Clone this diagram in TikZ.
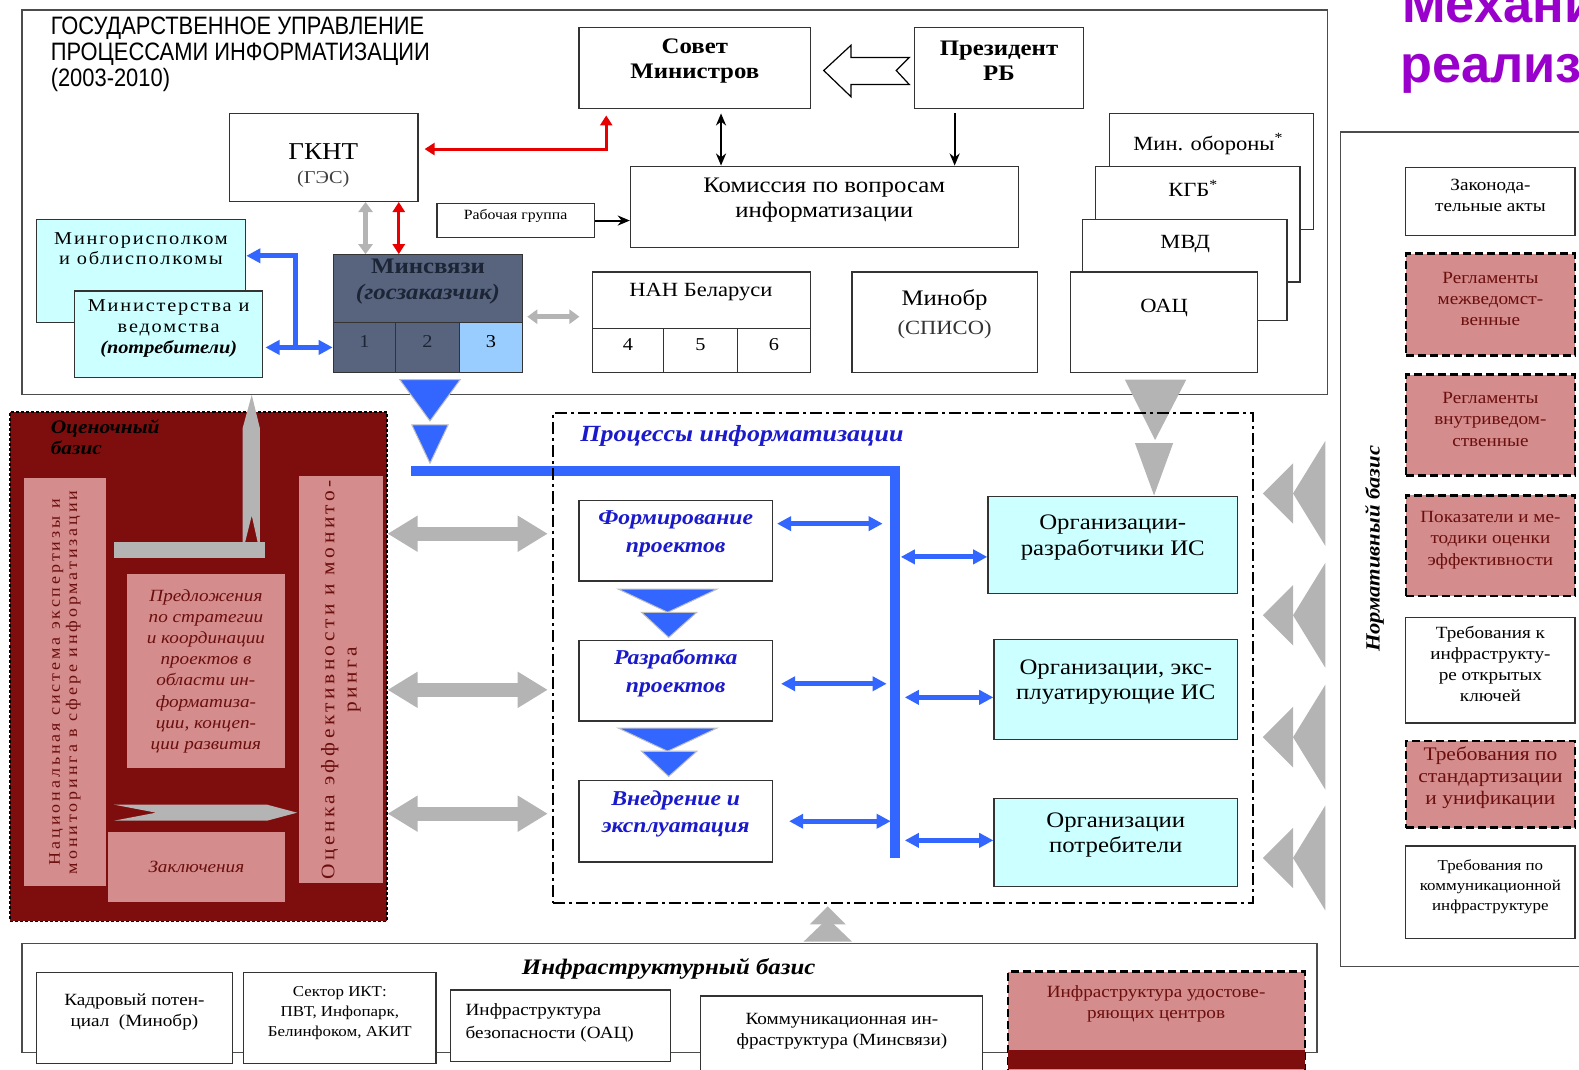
\documentclass[tikz,border=0pt]{standalone}
\usepackage{fontspec}
\setmainfont{Liberation Serif}[FakeStretch=1.12]
\newfontfamily\headfont{Liberation Sans}[FakeStretch=0.87]
\newfontfamily\bigfont{Liberation Sans}
\newfontfamily\spacedfont{Liberation Serif}[FakeStretch=1.12,LetterSpace=10]
\newfontfamily\widefont{Liberation Serif}[FakeStretch=1.12,LetterSpace=18]
\usetikzlibrary{arrows.meta,fit,positioning}

\definecolor{cyanbox}{HTML}{CCFFFF}
\definecolor{ocenred}{HTML}{7E0E0E}
\definecolor{pinkbox}{HTML}{D48C8C}
\definecolor{pinktext}{HTML}{6A0E0E}
\definecolor{slate}{HTML}{58647E}
\definecolor{slatetext}{HTML}{1C2536}
\definecolor{cellblue}{HTML}{99CCFF}
\definecolor{procblue}{HTML}{1A1ACC}
\definecolor{busblue}{HTML}{3366FF}
\definecolor{arrgray}{HTML}{B4B4B4}
\definecolor{redline}{HTML}{E80000}
\definecolor{titleviolet}{HTML}{9900CC}

\begin{document}
\begin{tikzpicture}[x=0.5pt,y=-0.5pt,
  frame/.style={draw=black!70, line width=0.7pt, inner sep=0pt},
  box/.style={draw=black!80, line width=0.6pt, fill=white, inner sep=0pt, align=center,
    font=\fontsize{11}{12.5}\selectfont},
  cbox/.style={box, fill=cyanbox},
  nbox/.style={box, font=\fontsize{8.5}{10.5}\selectfont},
  pbox/.style={draw=black, line width=1.3pt, dash pattern=on 4pt off 2pt, fill=pinkbox,
    inner sep=0pt, align=center, text=pinktext, font=\fontsize{8.5}{10.5}\selectfont},
  procbox/.style={box, text=procblue, font=\bfseries\itshape\fontsize{10.5}{13.5}\selectfont},
  panel/.style={fill=pinkbox, inner sep=0pt},
  paneltext/.style={inner sep=0pt, align=center, text=pinktext},
  cell/.style={draw=black!80, line width=0.6pt, inner sep=0pt, font=\fontsize{9}{10}\selectfont},
  txt/.style={inner sep=0pt, align=center},
  blk/.style={line width=1pt, -{Stealth[length=6pt,width=5pt]}},
  redarr/.style={line width=1.5pt, draw=redline, {Triangle[length=5pt,width=6pt]}-{Triangle[length=5pt,width=6pt]}},
  grayarr/.style={line width=7pt, draw=arrgray, {Triangle[length=15pt,width=17pt]}-{Triangle[length=15pt,width=17pt]}},
  smallgray/.style={line width=2.5pt, draw=arrgray, {Triangle[length=5pt,width=7pt]}-{Triangle[length=5pt,width=7pt]}},
  bluearr/.style={line width=2.5pt, draw=busblue, {Triangle[length=7pt,width=7pt]}-{Triangle[length=7pt,width=7pt]}},
  bus/.style={line width=5pt, draw=busblue}
]
\useasboundingbox (0,0) rectangle (1568,1062);
\clip (0,0) rectangle (1568,1062);

% Frames
\node[frame, fit={(22,10) (1318,392)}] (upr) {};
\node[frame, fit={(1331,131) (1600,960)}] (norm) {};
\node[frame, fit={(22,937) (1308,1045)}] (infra) {};

% Title
\node[anchor=north west, align=left, inner sep=0pt, font=\headfont\fontsize{12.5}{13}\selectfont]
  (title) at (50,16) {ГОСУДАРСТВЕННОЕ УПРАВЛЕНИЕ\\ПРОЦЕССАМИ ИНФОРМАТИЗАЦИИ\\(2003-2010)};
\node[anchor=base west, inner sep=0pt, text=titleviolet, font=\bigfont\bfseries\fontsize{26}{28}\selectfont]
  (mech1) at (1392,22) {Механи};
\node[anchor=base west, inner sep=0pt, text=titleviolet, font=\bigfont\bfseries\fontsize{26}{28}\selectfont]
  (mech2) at (1390,82) {реализ};

% Government bodies
\node[box, font=\bfseries\fontsize{11}{12.5}\selectfont, fit={(575,27) (805,108)}] (sovet) {Совет\\Министров};
\node[box, font=\bfseries\fontsize{11}{12.5}\selectfont, fit={(908,27) (1076,108)}] (prez) {Президент\\РБ};
\draw[line width=0.6pt, fill=white] (818,70) -- (845,45) -- (845,57) -- (903,57) -- (890,70)
  -- (903,84) -- (845,84) -- (845,96) -- cycle;

\node[box, fit={(228,113) (415,200)}] (gknt) {};
\node[txt, font=\fontsize{12}{14}\selectfont] (gknt-t) at (321,151) {ГКНТ};
\node[txt, text=black!75, font=\fontsize{9}{11}\selectfont] (ges-t) at (321,178) {(ГЭС)};
\node[box, fit={(626,165) (1011,246)}] (komis) {Комиссия по вопросам\\информатизации};
\node[box, font=\fontsize{7}{8}\selectfont, fit={(434,202) (590,236)}] (rabgr) {Рабочая группа};

% Stacked ministries
\node[box, fit={(1102,113) (1304,228)}] (minob) {};
\node[txt, font=\fontsize{10}{12}\selectfont] (minob-t) at (1200,143) {Мин. обороны\textsuperscript{*}};
\node[box, fit={(1088,165) (1291,280)}] (kgb) {};
\node[txt] (kgb-t) at (1185,187) {КГБ\textsuperscript{*}};
\node[box, fit={(1075,218) (1278,318)}] (mvd) {};
\node[txt] (mvd-t) at (1177,242) {МВД};
\node[box, fit={(1063,270) (1249,370)}] (oac) {};
\node[txt] (oac-t) at (1156,306) {ОАЦ};

% Executive committees and ministries
\node[cbox, fit={(36,218) (244,320)}] (mingor) {};
\node[txt, font=\spacedfont\fontsize{9}{10}\selectfont] (mingor-t) at (140,247) {Мингорисполком\\и облисполкомы};
\node[cbox, font=\spacedfont\fontsize{9}{10.5}\selectfont, fit={(74,289) (261,375)}] (minist)
  {Министерства и\\ведомства\\{\normalfont\fontsize{9}{10.5}\selectfont\bfseries\itshape(потребители)}};

% Minsvyazi with cells
\node[box, fill=slate, text=slatetext, font=\bfseries\fontsize{11}{13}\selectfont, fit={(331,253) (519,320)}]
  (minsv) {Минсвязи\\\textit{(госзаказчик)}};
\node[cell, fill=slate, text=slatetext, fit={(331,320) (393,370)}] (c1) {1};
\node[cell, fill=slate, text=slatetext, fit={(393,320) (456,370)}] (c2) {2};
\node[cell, fill=cellblue, fit={(456,320) (519,370)}] (c3) {3};

% NAN and Minobr
\node[box, fit={(588,270) (805,326)}] (nan) {};
\node[txt] (nan-t) at (696,290) {НАН Беларуси};
\node[cell, fill=white, fit={(588,326) (659,370)}] (n4) {4};
\node[cell, fill=white, fit={(659,326) (732,370)}] (n5) {5};
\node[cell, fill=white, fit={(732,326) (805,370)}] (n6) {6};
\node[box, fit={(846,270) (1030,370)}] (minobr) {Минобр\\[2pt]{\color{black!80}\fontsize{10}{12}\selectfont(СПИСО)}};

% Connectors of the upper part
\coordinate (rk) at (602,148);
\draw[redarr, shorten <=3pt, shorten >=3pt] (gknt.east |- rk) -- (rk) -- (rk |- sovet.south);
\draw[blk, {Stealth[length=6pt,width=5pt]}-{Stealth[length=6pt,width=5pt]}, shorten <=2pt]
  ([xshift=13pt]sovet.south) -- ([xshift=13pt]sovet.south |- komis.north);
\draw[blk, shorten <=2pt] ([xshift=-22pt]prez.south) -- ([xshift=-22pt]prez.south |- komis.north);
\draw[blk] (rabgr.east) -- (rabgr.east -| komis.west);
\draw[smallgray] ([xshift=20.75pt]gknt.south) -- ([xshift=20.75pt]gknt.south |- minsv.north);
\draw[redarr] ([xshift=37.25pt]gknt.south) -- ([xshift=37.25pt]gknt.south |- minsv.north);
\draw[smallgray, shorten <=2pt, shorten >=6pt] ([yshift=-14pt]minsv.east) -- ([yshift=-14pt]minsv.east -| nan.west);
\coordinate (bj) at (293,254);
\draw[bluearr, shorten <=1pt] (minist.east |- c1) -- (c1.west);
\draw[line width=2.5pt, draw=busblue, -{Triangle[length=7pt,width=7pt]}] (bj |- c1) -- (bj) -- (bj -| mingor.east);

% Flow down from Minsvyazi
\fill[busblue, draw=black!25, line width=0.5pt] (397,377) -- (457,377) -- (427,418) -- cycle;
\fill[busblue, draw=black!25, line width=0.5pt] (409,422) -- (445,422) -- (427,460) -- cycle;
\coordinate (busL) at (408,468);
\coordinate (busC) at (888.5,468);
\coordinate (busB) at (888.5,852);
\draw[bus] (busL) -- (busC) -- (busB);

% Flow down from security bodies
\fill[arrgray] (1117,377) -- (1178,377) -- (1147,437) -- cycle;
\fill[arrgray] (1127,440) -- (1165,440) -- (1146,492) -- cycle;

% Processes
\node[inner sep=0pt, draw=black, line width=1pt, dash pattern=on 6pt off 2pt on 1.5pt off 2pt,
  fit={(549,410) (1244,897)}] (proc) {};
\node[anchor=west, inner sep=0pt, text=procblue, font=\bfseries\itshape\fontsize{11.5}{13}\selectfont]
  (proc-t) at (576,433) {Процессы информатизации};
\node[procbox, fit={(575,497) (767,577)}] (form) {Формирование\\проектов};
\node[procbox, fit={(575,636) (767,716)}] (razr) {Разработка\\проектов};
\node[procbox, fit={(575,775) (767,856)}] (vned) {Внедрение и\\эксплуатация};
\foreach \yy in {585,723} {
  \fill[busblue, draw=black!25, line width=0.5pt] (614,\yy) -- (712,\yy) -- (663,\yy+23) -- cycle;
  \fill[busblue, draw=black!25, line width=0.5pt] (637,\yy+23) -- (692,\yy+23) -- (664,\yy+48) -- cycle;
}
\node[cbox, fit={(981,493) (1229,589)}] (org1) {Организации-\\разработчики ИС};
\node[cbox, fit={(987,635) (1229,734)}] (org2) {Организации, экс-\\плуатирующие ИС};
\node[cbox, fit={(987,793) (1229,880)}] (org3) {Организации\\потребители};

\draw[bluearr, shorten <=2pt, shorten >=6pt] ([yshift=8.5pt]form.east) -- ([yshift=8.5pt]form.east -| busC);
\draw[bluearr, shorten <=4pt, shorten >=4pt] ([yshift=-1.5pt]razr.east) -- ([yshift=-1.5pt]razr.east -| busC);
\draw[bluearr, shorten <=8pt, shorten >=2pt] (vned.east) -- (vned.east -| busC);
\draw[bluearr, shorten <=3pt] ([yshift=-6pt]org1.west -| busC) -- ([yshift=-6pt]org1.west);
\draw[bluearr, shorten <=5pt] ([yshift=-4pt]org2.west -| busC) -- ([yshift=-4pt]org2.west);
\draw[bluearr, shorten <=5pt] ([yshift=1pt]org3.west -| busC) -- ([yshift=1pt]org3.west);

% Evaluation basis
\node[inner sep=0pt, fill=ocenred, draw=black, line width=0.8pt, dash pattern=on 1.5pt off 1pt,
  fit={(10,409) (384,915)}] (ocenka) {};
\node[anchor=north west, align=left, inner sep=0pt, font=\bfseries\itshape\fontsize{9.5}{10.5}\selectfont]
  (ocenka-t) at (50,416) {Оценочный\\базис};
\node[panel, fit={(24,475) (105,880)}] (natsys) {};
\node[paneltext, rotate=90, font=\widefont\fontsize{8}{8.5}\selectfont] (natsys-t) at (natsys)
  {Национальная система экспертизы и\\мониторинга в сфере информатизации};
\node[panel, fit={(297,473) (380,877)}] (effekt) {};
\node[paneltext, rotate=90, font=\widefont\fontsize{9.5}{11}\selectfont] (effekt-t) at (effekt)
  {Оценка эффективности и монито-\\ринга};
\node[panel, fit={(126,570) (283,763)}] (predl) {};
\node[paneltext, font=\itshape\fontsize{8.5}{10.5}\selectfont] (predl-t) at (predl)
  {Предложения\\по стратегии\\и координации\\проектов в\\области ин-\\форматиза-\\ции, концеп-\\ции развития};
\node[panel, fit={(107,826) (283,896)}] (zakl) {};
\node[paneltext, font=\itshape\fontsize{8.5}{10}\selectfont] (zakl-t) at (zakl) {Заключения};
% inner arrows
\fill[arrgray] (113,538) rectangle (263,554);
\fill[arrgray] (241,548) -- (241,425) -- (250,392) -- (258,425) -- (258,548) -- (250,512) -- cycle;
\fill[arrgray] (113,799) -- (265,799) -- (295,807) -- (265,815) -- (113,815) -- (155,807) -- cycle;

\draw[grayarr, shorten >=2pt] (ocenka.east |- 0,530) -- (proc.west |- 0,530);
\draw[grayarr, shorten >=2pt] (ocenka.east |- 0,685) -- (proc.west |- 0,685);
\draw[grayarr, shorten >=2pt] (ocenka.east |- 0,808) -- (proc.west |- 0,808);

% Normative basis
\node[rotate=90, inner sep=0pt, font=\bfseries\itshape\fontsize{10}{12}\selectfont] (norm-t) at (1365,545)
  {Нормативный базис};
\node[nbox, fit={(1396,166) (1564,234)}] (zakon) {Законода-\\тельные акты};
\node[pbox, fit={(1396,252) (1564,353)}] (regl1) {Регламенты\\межведомст-\\венные};
\node[pbox, fit={(1396,372) (1564,472)}] (regl2) {Регламенты\\внутриведом-\\ственные};
\node[pbox, fit={(1396,492) (1564,592)}] (pokaz) {Показатели и ме-\\тодики оценки\\эффективности};
\node[nbox, fit={(1396,613) (1564,718)}] (treb1) {Требования к\\инфраструкту-\\ре открытых\\ключей};
\node[pbox, font=\fontsize{9.5}{11}\selectfont, fit={(1396,736) (1564,822)}] (treb2)
  {Требования по\\стандартизации\\и унификации};
\node[nbox, font=\fontsize{7.5}{10}\selectfont, fit={(1396,840) (1564,932)}] (treb3)
  {Требования по\\коммуникационной\\инфраструктуре};
\foreach \cy in {490,611,732,852} {
  \fill[arrgray] (1254,\cy) -- (1284,\cy-30) -- (1284,\cy+30) -- cycle;
  \fill[arrgray] (1284,\cy) -- (1316,\cy-52) -- (1316,\cy+52) -- cycle;
}

% Infrastructure basis
\fill[arrgray] (822,900) -- (840,918) -- (804,918) -- cycle;
\fill[arrgray] (822,912) -- (846,935) -- (798,935) -- cycle;
\node[inner sep=0pt, font=\bfseries\itshape\fontsize{11}{13}\selectfont] (infra-t) at (664,962)
  {Инфраструктурный базис};
\node[nbox, fit={(36,966) (231,1056)}] (kadr) {Кадровый потен-\\циал\ \ (Минобр)};
\node[nbox, font=\fontsize{7.5}{10}\selectfont, fit={(242,966) (433,1056)}] (sektor)
  {Сектор ИКТ:\\ПВТ, Инфопарк,\\Белинфоком, АКИТ};
\node[nbox, align=left, fit={(447,983) (666,1054)}] (bezop) {};
\node[anchor=west, align=left, inner sep=0pt, font=\fontsize{8.5}{11.5}\selectfont] (bezop-t) at (462,1016)
  {Инфраструктура\\безопасности (ОАЦ)};
\node[nbox, fit={(696,989) (976,1070)}] (kommun) {Коммуникационная ин-\\фраструктура (Минсвязи)};
\node[pbox, fit={(1001,965) (1296,1070)}] (udost) {};
\fill[ocenred] (1001,1043) rectangle (1296,1062);
\node[paneltext, font=\fontsize{8.5}{10.5}\selectfont] (udost-t) at (1148,997)
  {Инфраструктура удостове-\\ряющих центров};

\end{tikzpicture}
\end{document}
